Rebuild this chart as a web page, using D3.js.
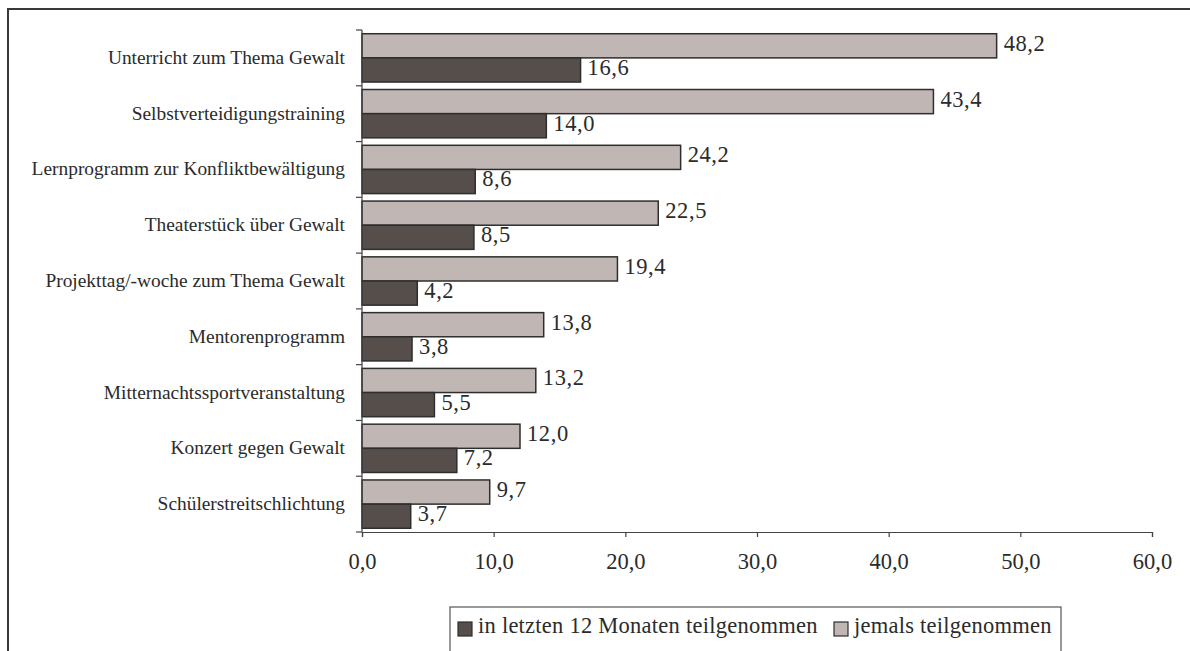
<!DOCTYPE html>
<html>
<head>
<meta charset="utf-8">
<script src="https://cdn.jsdelivr.net/npm/d3@7"></script>
<style>
  html, body { margin: 0; padding: 0; background: #ffffff; }
  svg { display: block; }
  text { font-family: "Liberation Serif", "Times New Roman", serif; fill: #2b2b2b; }
</style>
</head>
<body>
<svg id="chart" width="1190" height="651"></svg>
<script>
// Participation in violence-prevention programmes (percent)
const categories = [
  "Unterricht zum Thema Gewalt",
  "Selbstverteidigungstraining",
  "Lernprogramm zur Konfliktbewältigung",
  "Theaterstück über Gewalt",
  "Projekttag/-woche zum Thema Gewalt",
  "Mentorenprogramm",
  "Mitternachtssportveranstaltung",
  "Konzert gegen Gewalt",
  "Schülerstreitschlichtung"
];
const everParticipated = [48.2, 43.4, 24.2, 22.5, 19.4, 13.8, 13.2, 12.0, 9.7];
const last12Months     = [16.6, 14.0, 8.6, 8.5, 4.2, 3.8, 5.5, 7.2, 3.7];
const tickValues = [0, 10, 20, 30, 40, 50, 60];
const seriesNames = ["in letzten 12 Monaten teilgenommen", "jemals teilgenommen"];

const colorEver = "#c0b7b5";
const colorRecent = "#564e4b";
const strokeCol = "#2e2e2e";

const de = d3.formatLocale({ decimal: ",", thousands: ".", grouping: [3], currency: ["", " €"] });
const fmt = de.format(".1f");

const svg = d3.select("#chart");

// outer frame (only top and left edges fall inside the view)
svg.append("path")
  .attr("d", "M8,652 L8,9 L1192,9")
  .attr("fill", "none")
  .attr("stroke", "#3a3a3a")
  .attr("stroke-width", 2);

const plotLeft = 362, plotRight = 1152, plotTop = 30, plotBottom = 532;

const x = d3.scaleLinear().domain([0, 60]).range([plotLeft, plotRight]);
const y = d3.scaleBand().domain(categories).range([plotTop, plotBottom]).paddingInner(0.134).paddingOuter(0.067);
const sub = d3.scaleBand().domain(["ever", "recent"]).range([0, y.bandwidth()]);

const rows = categories.map((c, i) => ({ cat: c, ever: everParticipated[i], recent: last12Months[i] }));

const g = svg.append("g");

// bars with value labels
rows.forEach(r => {
  [["ever", r.ever, colorEver], ["recent", r.recent, colorRecent]].forEach(([k, v, col]) => {
    const by = y(r.cat) + sub(k);
    g.append("rect")
      .attr("x", x(0))
      .attr("y", by)
      .attr("width", x(v) - x(0))
      .attr("height", sub.bandwidth())
      .attr("fill", col)
      .attr("stroke", strokeCol)
      .attr("stroke-width", 1.5);
    g.append("text")
      .attr("x", x(v) + 7)
      .attr("y", by + 17)
      .attr("font-size", 22.5)
      .attr("letter-spacing", 0.6)
      .text(fmt(v));
  });
});

// y axis: line with category separators
const yAxis = svg.append("g");
yAxis.append("line")
  .attr("x1", plotLeft).attr("x2", plotLeft)
  .attr("y1", plotTop).attr("y2", plotBottom)
  .attr("stroke", "#444").attr("stroke-width", 1.2);
const sepY = categories.map(c => y(c) - y.step() * y.paddingInner() / 2).concat([plotBottom]);
sepY[0] = plotTop;
sepY.forEach(v => {
  yAxis.append("line")
    .attr("x1", plotLeft - 6).attr("x2", plotLeft)
    .attr("y1", v).attr("y2", v)
    .attr("stroke", "#444").attr("stroke-width", 1.2);
});
categories.forEach(c => {
  yAxis.append("text")
    .attr("x", plotLeft - 17)
    .attr("y", y(c) + y.bandwidth() / 2 + 6)
    .attr("text-anchor", "end")
    .attr("font-size", 19.4)
    .text(c);
});

// x axis
const xAxis = svg.append("g")
  .attr("transform", `translate(0,${plotBottom})`)
  .call(d3.axisBottom(x).tickValues(tickValues).tickFormat(fmt).tickSize(5).tickPadding(16));
xAxis.select(".domain").attr("stroke", "#444").attr("stroke-width", 1.2);
xAxis.selectAll(".tick line").attr("stroke", "#444").attr("stroke-width", 1.2);
xAxis.selectAll(".tick text")
  .attr("font-family", "Liberation Serif, serif")
  .attr("font-size", 22.5)
  .attr("fill", "#2b2b2b");

// legend
const leg = svg.append("g");
leg.append("rect")
  .attr("x", 450).attr("y", 607)
  .attr("width", 611).attr("height", 60)
  .attr("fill", "#fff")
  .attr("stroke", "#555").attr("stroke-width", 1.2);
const legItems = [
  { name: seriesNames[0], col: colorRecent, x: 458 },
  { name: seriesNames[1], col: colorEver, x: 834 }
];
legItems.forEach(it => {
  leg.append("rect")
    .attr("x", it.x).attr("y", 622)
    .attr("width", 14).attr("height", 14)
    .attr("fill", it.col)
    .attr("stroke", strokeCol).attr("stroke-width", 1.2);
  leg.append("text")
    .attr("x", it.x + 20)
    .attr("y", 633)
    .attr("font-size", 22.5)
    .attr("letter-spacing", 0.25)
    .text(it.name);
});
</script>
</body>
</html>
